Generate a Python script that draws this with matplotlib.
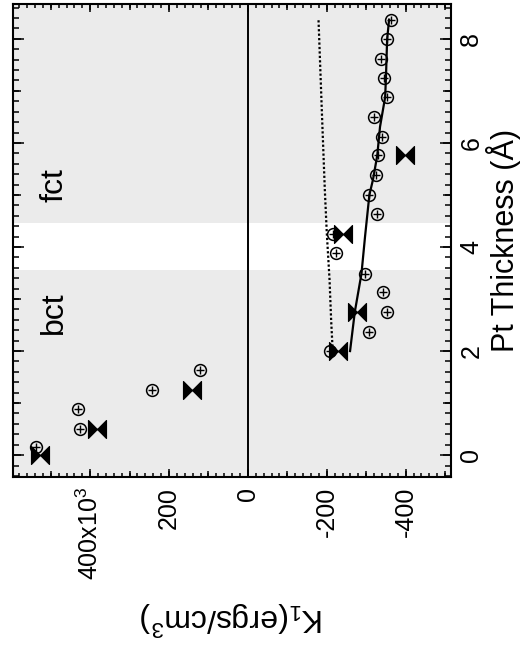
import matplotlib
matplotlib.use("Agg")
import matplotlib.pyplot as plt
from matplotlib.path import Path
from matplotlib.ticker import MultipleLocator, FixedLocator, FixedFormatter, NullLocator

plt.rcParams['font.family'] = ['Liberation Sans', 'DejaVu Sans']
plt.rcParams['mathtext.fontset'] = 'custom'
plt.rcParams['mathtext.rm'] = 'Liberation Sans'
plt.rcParams['mathtext.it'] = 'Liberation Sans:italic'
plt.rcParams['mathtext.default'] = 'regular'

# ---------------- data ----------------
# open circles with plus (thickness in Angstrom, K1 in 10^3 erg/cm^3)
circ_t = [0.15, 0.51, 0.88, 1.25, 1.63, 2.0, 2.37, 2.75, 3.13, 3.49, 3.88, 4.25,
          4.63, 5.0, 5.38, 5.76, 6.12, 6.5, 6.88, 7.25, 7.62, 7.99, 8.37]
circ_k = [537, 425, 431, 244, 122, -207, -308, -353, -343, -297, -224, -217,
          -328, -308, -325, -330, -341, -319, -353, -346, -337, -352, -362]

# bowtie markers
bow_t = [0.0, 0.5, 1.25, 2.0, 2.75, 4.25, 5.76]
bow_k = [526, 383, 141, -229, -277, -242, -398]

# solid fit line
solid_t = [2.0, 2.75, 3.49, 4.2, 5.0, 5.29, 5.76, 6.31, 6.88, 7.25, 7.99, 8.37]
solid_k = [-259, -271, -288, -297, -308, -317, -328, -335, -348, -350, -353, -358]

# dotted line
dot_t = [2.0, 2.6, 3.37, 4.27, 5.1, 6.5, 8.37]
dot_k = [-215, -211, -207, -200, -195, -188, -179]

# phase regions (thickness ranges)
bct_range = (-0.42, 3.55)
fct_range = (4.47, 8.67)
phase_labels = ['bct', 'fct']
phase_label_t = [2.73, 5.19]
phase_label_k = 491

k_ticks = [400, 200, 0, -200, -400]
k_ticklabels = ['400x10$^3$', '200', '0', '-200', '-400']
t_ticks = [0, 2, 4, 6, 8]
t_ticklabels = ['0', '2', '4', '6', '8']

xlim = (595, -515)
ylim = (-0.42, 8.67)

# ---------------- figure ----------------
fig = plt.figure(figsize=(5.27, 6.56), dpi=100)
pos = [0.0252, 0.2729, 0.8306, 0.7210]
ax = fig.add_axes(pos)

gray = '#ebebeb'
ax.axhspan(*bct_range, color=gray, lw=0, zorder=0)
ax.axhspan(*fct_range, color=gray, lw=0, zorder=0)
ax.axvline(0, color='black', lw=1.4, zorder=1)

ax.plot(dot_k, dot_t, color='black', lw=1.6, ls=(0, (1, 1)), zorder=2)
ax.plot(solid_k, solid_t, color='black', lw=1.6, zorder=2)

ax.plot(circ_k, circ_t, ls='none', marker='o', ms=8.5, mfc='none', mec='black', mew=1.1, zorder=3)
ax.plot(circ_k, circ_t, ls='none', marker='+', ms=5.5, mec='black', mew=1.0, zorder=3)

bowtie = Path([(-1, -1), (0, 0), (-1, 1), (-1, -1),
               (1, -1), (0, 0), (1, 1), (1, -1)],
              [Path.MOVETO, Path.LINETO, Path.LINETO, Path.CLOSEPOLY,
               Path.MOVETO, Path.LINETO, Path.LINETO, Path.CLOSEPOLY])
ax.plot(bow_k, bow_t, ls='none', marker=bowtie, ms=13, mfc='black', mec='black', mew=0.8, zorder=4)

for lab, tt in zip(phase_labels, phase_label_t):
    ax.text(phase_label_k, tt, lab, rotation=90, ha='center', va='center', fontsize=23)

ax.set_xlim(*xlim)
ax.set_ylim(*ylim)

ax.xaxis.set_major_locator(FixedLocator(k_ticks))
ax.xaxis.set_major_formatter(FixedFormatter(k_ticklabels))
ax.xaxis.set_minor_locator(MultipleLocator(20))
ax.yaxis.set_major_locator(FixedLocator(t_ticks))
ax.yaxis.set_major_formatter(FixedFormatter(t_ticklabels))
ax.yaxis.set_minor_locator(MultipleLocator(0.2))

ax.yaxis.tick_right()
ax.yaxis.set_label_position('right')
ax.tick_params(axis='both', which='both', direction='in', top=True, bottom=True,
               left=True, right=True, width=1.1, color='black')
ax.tick_params(axis='x', which='major', length=5.8, pad=7, labelsize=18, labelrotation=90)
ax.tick_params(axis='x', which='minor', length=2.9)
ax.tick_params(axis='y', which='major', length=7.7, pad=6, labelsize=18, labelrotation=90,
               labelleft=False, labelright=True)
ax.tick_params(axis='y', which='minor', length=4.3)
for lab in ax.get_yticklabels():
    lab.set_va('center')

for s in ax.spines.values():
    s.set_linewidth(1.5)

ax.set_xlabel('K$_1$(ergs/cm$^3$)', fontsize=23, rotation=180, labelpad=14)
ax.set_ylabel('Pt Thickness (Å)', fontsize=22, rotation=90, labelpad=2)

# medium ticks overlay
ax2 = fig.add_axes(pos, facecolor='none')
ax2.set_xlim(*xlim)
ax2.set_ylim(*ylim)
for s in ax2.spines.values():
    s.set_visible(False)
ax2.xaxis.set_major_locator(MultipleLocator(100))
ax2.yaxis.set_major_locator(MultipleLocator(1))
ax2.xaxis.set_minor_locator(NullLocator())
ax2.yaxis.set_minor_locator(NullLocator())
ax2.tick_params(axis='x', which='major', direction='in', length=4.3, width=1.1,
                top=True, bottom=True, labelbottom=False, labeltop=False)
ax2.tick_params(axis='y', which='major', direction='in', length=5.5, width=1.1,
                left=True, right=True, labelleft=False, labelright=False)

fig.savefig('out.png', dpi=100)
